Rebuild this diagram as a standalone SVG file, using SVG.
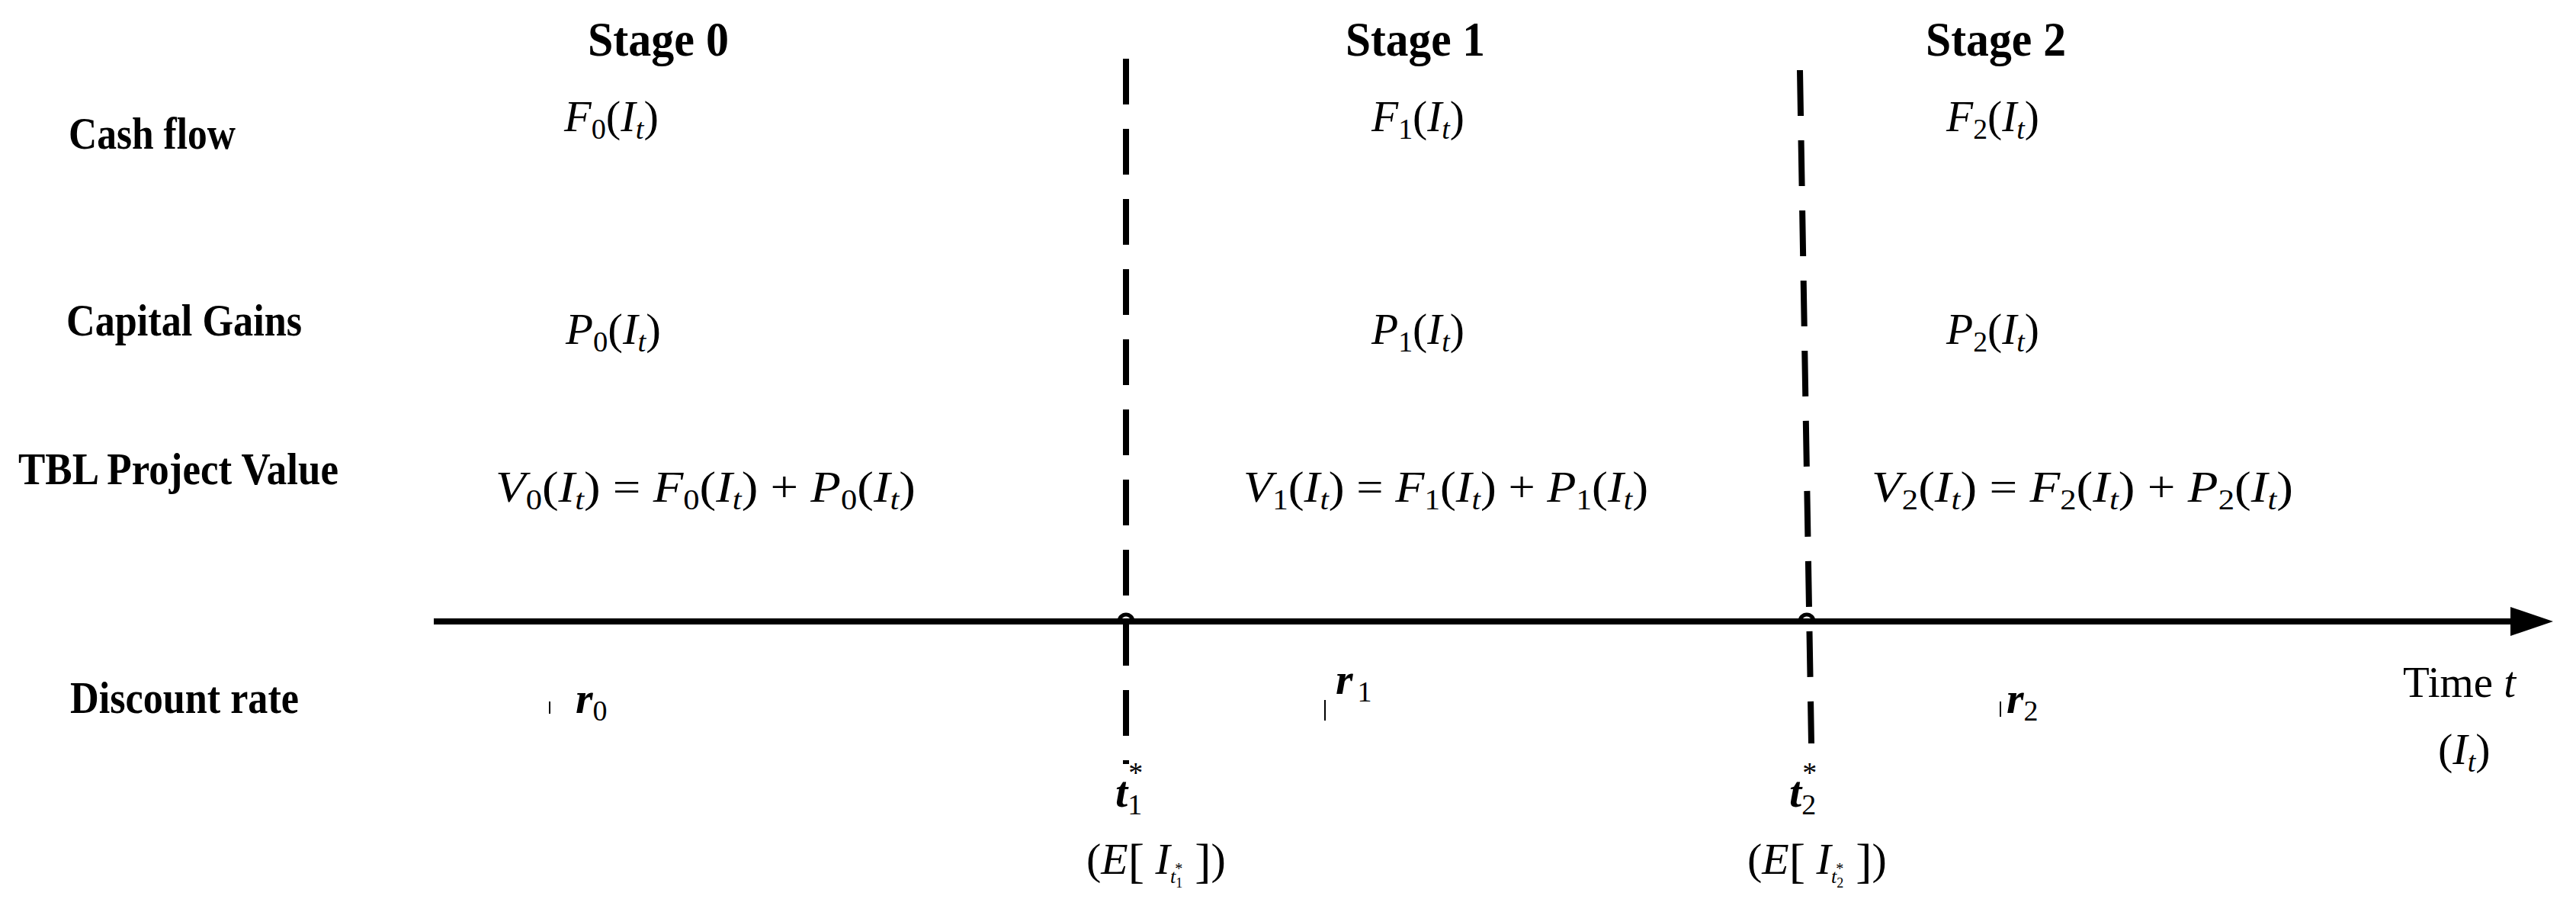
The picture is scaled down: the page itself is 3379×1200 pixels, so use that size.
<svg xmlns="http://www.w3.org/2000/svg" width="3379" height="1200" viewBox="0 0 3379 1200">
<style>
.lab{font-family:"Liberation Serif",serif;font-weight:bold;font-size:60px;fill:#000}
.stg{font-family:"Liberation Serif",serif;font-weight:bold;font-size:64px;fill:#000}
.m{font-family:"Liberation Serif",serif;font-style:italic;font-size:58px;fill:#000}
.n{font-style:normal}
.s{font-size:38px}
.dash{stroke:#000;stroke-width:8;stroke-dasharray:60 32;fill:none}
</style>
<g id="labels">
<text class="lab" x="90" y="195" textLength="219" lengthAdjust="spacingAndGlyphs">Cash  flow</text>
<text class="lab" x="87" y="440" textLength="309" lengthAdjust="spacingAndGlyphs">Capital Gains</text>
<text class="lab" x="24" y="635" textLength="420" lengthAdjust="spacingAndGlyphs">TBL Project Value</text>
<text class="lab" x="92" y="935" textLength="300" lengthAdjust="spacingAndGlyphs">Discount rate</text>
</g>
<g id="stages">
<text class="stg" x="771" y="73" textLength="185" lengthAdjust="spacingAndGlyphs">Stage 0</text>
<text class="stg" x="1765" y="73" textLength="183" lengthAdjust="spacingAndGlyphs">Stage 1</text>
<text class="stg" x="2526" y="73" textLength="184" lengthAdjust="spacingAndGlyphs">Stage 2</text>
</g>
<g id="connectors">
<line x1="569" y1="815" x2="3300" y2="815" stroke="#000" stroke-width="8"/>
<path d="M3293,796 L3349,815 L3293,834 Z" fill="#000"/>
<line class="dash" x1="1477" y1="77" x2="1477" y2="1002"/>
<line class="dash" x1="2361" y1="92" x2="2376" y2="975"/>
<path d="M1468,815 A9,9 0 0 1 1486,815" fill="none" stroke="#000" stroke-width="5"/>
<path d="M2361,815 A9,9 0 0 1 2379,815" fill="none" stroke="#000" stroke-width="5"/>
</g>
<g id="stage0">
<text class="m" x="740" y="172" textLength="124" lengthAdjust="spacingAndGlyphs">F<tspan class="n s" dy="10">0</tspan><tspan class="n" dy="-10">(</tspan>I<tspan class="s" dy="10">t</tspan><tspan class="n" dy="-10">)</tspan></text>
<text class="m" x="742" y="451" textLength="125" lengthAdjust="spacingAndGlyphs">P<tspan class="n s" dy="10">0</tspan><tspan class="n" dy="-10">(</tspan>I<tspan class="s" dy="10">t</tspan><tspan class="n" dy="-10">)</tspan></text>
<text class="m" x="650" y="658" textLength="551" lengthAdjust="spacingAndGlyphs">V<tspan class="n s" dy="10">0</tspan><tspan class="n" dy="-10">(</tspan>I<tspan class="s" dy="10">t</tspan><tspan class="n" dy="-10">) = </tspan>F<tspan class="n s" dy="10">0</tspan><tspan class="n" dy="-10">(</tspan>I<tspan class="s" dy="10">t</tspan><tspan class="n" dy="-10">) + </tspan>P<tspan class="n s" dy="10">0</tspan><tspan class="n" dy="-10">(</tspan>I<tspan class="s" dy="10">t</tspan><tspan class="n" dy="-10">)</tspan></text>
<line x1="721" y1="920" x2="721" y2="936" stroke="#000" stroke-width="2"/>
<text class="m" x="755" y="935" font-weight="bold">r<tspan class="n s" font-weight="normal" dy="10">0</tspan></text>
</g>
<g id="stage1">
<text class="m" x="1799" y="172" textLength="122" lengthAdjust="spacingAndGlyphs">F<tspan class="n s" dy="10">1</tspan><tspan class="n" dy="-10">(</tspan>I<tspan class="s" dy="10">t</tspan><tspan class="n" dy="-10">)</tspan></text>
<text class="m" x="1799" y="451" textLength="122" lengthAdjust="spacingAndGlyphs">P<tspan class="n s" dy="10">1</tspan><tspan class="n" dy="-10">(</tspan>I<tspan class="s" dy="10">t</tspan><tspan class="n" dy="-10">)</tspan></text>
<text class="m" x="1631" y="658" textLength="531" lengthAdjust="spacingAndGlyphs">V<tspan class="n s" dy="10">1</tspan><tspan class="n" dy="-10">(</tspan>I<tspan class="s" dy="10">t</tspan><tspan class="n" dy="-10">) = </tspan>F<tspan class="n s" dy="10">1</tspan><tspan class="n" dy="-10">(</tspan>I<tspan class="s" dy="10">t</tspan><tspan class="n" dy="-10">) + </tspan>P<tspan class="n s" dy="10">1</tspan><tspan class="n" dy="-10">(</tspan>I<tspan class="s" dy="10">t</tspan><tspan class="n" dy="-10">)</tspan></text>
<line x1="1738" y1="918" x2="1738" y2="945" stroke="#000" stroke-width="2"/>
<text class="m" x="1752" y="910" font-weight="bold">r<tspan class="n s" font-weight="normal" dx="6" dy="10">1</tspan></text>
</g>
<g id="stage2">
<text class="m" x="2553" y="172" textLength="122" lengthAdjust="spacingAndGlyphs">F<tspan class="n s" dy="10">2</tspan><tspan class="n" dy="-10">(</tspan>I<tspan class="s" dy="10">t</tspan><tspan class="n" dy="-10">)</tspan></text>
<text class="m" x="2553" y="451" textLength="122" lengthAdjust="spacingAndGlyphs">P<tspan class="n s" dy="10">2</tspan><tspan class="n" dy="-10">(</tspan>I<tspan class="s" dy="10">t</tspan><tspan class="n" dy="-10">)</tspan></text>
<text class="m" x="2455" y="658" textLength="553" lengthAdjust="spacingAndGlyphs">V<tspan class="n s" dy="10">2</tspan><tspan class="n" dy="-10">(</tspan>I<tspan class="s" dy="10">t</tspan><tspan class="n" dy="-10">) = </tspan>F<tspan class="n s" dy="10">2</tspan><tspan class="n" dy="-10">(</tspan>I<tspan class="s" dy="10">t</tspan><tspan class="n" dy="-10">) + </tspan>P<tspan class="n s" dy="10">2</tspan><tspan class="n" dy="-10">(</tspan>I<tspan class="s" dy="10">t</tspan><tspan class="n" dy="-10">)</tspan></text>
<line x1="2624" y1="920" x2="2624" y2="940" stroke="#000" stroke-width="2"/>
<text class="m" x="2632" y="935" font-weight="bold">r<tspan class="n s" font-weight="normal" dy="10">2</tspan></text>
</g>
<g id="t1">
<text class="m" x="1463" y="1058" font-weight="bold">t<tspan class="n s" font-weight="normal" dy="10">1</tspan><tspan class="n s" font-weight="normal" dx="-18" dy="-42">*</tspan></text>
<text class="m" x="1425" y="1146" font-size="48"><tspan class="n">(</tspan>E<tspan class="n" font-size="64" dy="4">[</tspan><tspan dy="-4"> I</tspan><tspan font-size="26" dy="12">t</tspan><tspan class="n" font-size="18" dy="6">1</tspan><tspan class="n" font-size="20" dx="-10" dy="-18">*</tspan><tspan class="n" font-size="64" dy="4"> ]</tspan><tspan class="n" dy="-4">)</tspan></text>
</g>
<g id="t2">
<text class="m" x="2347" y="1058" font-weight="bold">t<tspan class="n s" font-weight="normal" dy="10">2</tspan><tspan class="n s" font-weight="normal" dx="-18" dy="-42">*</tspan></text>
<text class="m" x="2292" y="1146" font-size="48"><tspan class="n">(</tspan>E<tspan class="n" font-size="64" dy="4">[</tspan><tspan dy="-4"> I</tspan><tspan font-size="26" dy="12">t</tspan><tspan class="n" font-size="18" dy="6">2</tspan><tspan class="n" font-size="20" dx="-10" dy="-18">*</tspan><tspan class="n" font-size="64" dy="4"> ]</tspan><tspan class="n" dy="-4">)</tspan></text>
</g>
<g id="time">
<text class="m" x="3152" y="914" textLength="148" lengthAdjust="spacingAndGlyphs"><tspan class="n">Time  </tspan>t</text>
<text class="m" x="3198" y="1002"><tspan class="n">(</tspan>I<tspan class="s" dy="10">t</tspan><tspan class="n" dy="-10">)</tspan></text>
</g>
</svg>
